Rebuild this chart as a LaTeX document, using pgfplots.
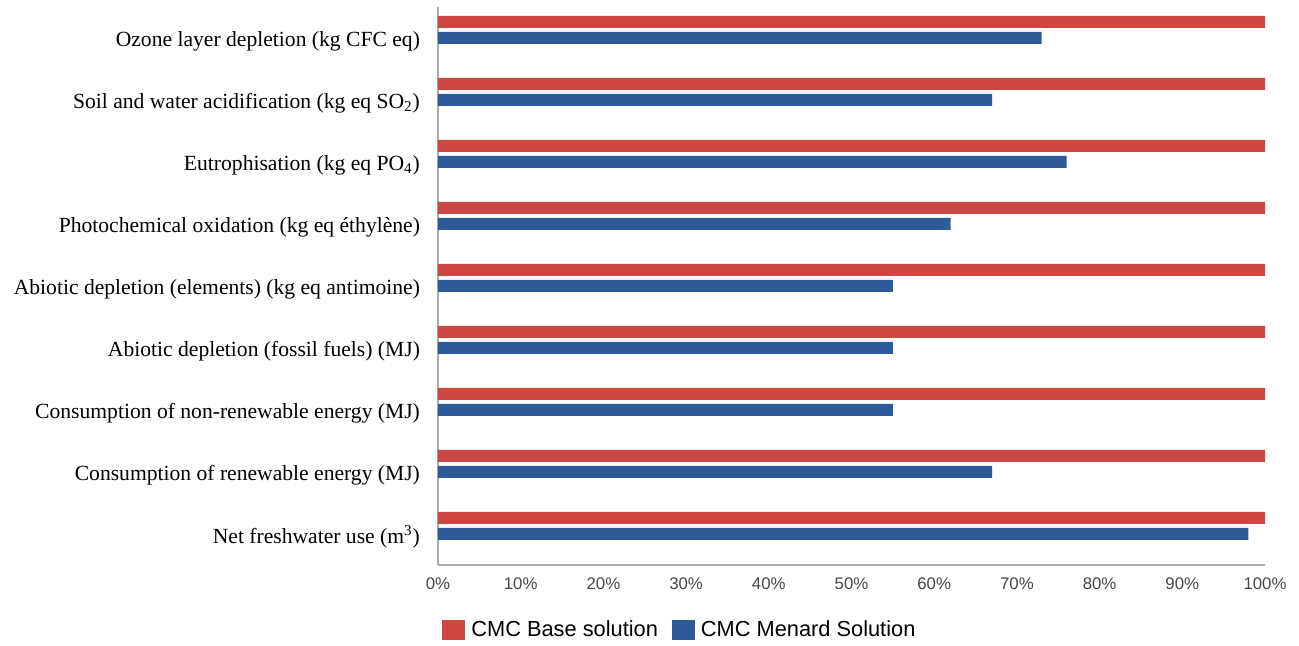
\documentclass[border=0pt]{standalone}
\usepackage{fontspec}
\setmainfont{Liberation Serif}
\newfontfamily\sansf{Liberation Sans}
\usepackage{pgfplots}
\pgfplotsset{compat=1.18}
\definecolor{basered}{RGB}{204,70,66}
\definecolor{menblue}{RGB}{46,90,152}
\definecolor{axgray}{RGB}{170,170,170}
\definecolor{tickgray}{RGB}{70,70,70}
\begin{document}
\begin{tikzpicture}
\begin{axis}[
  name=ax,
  scale only axis,
  width=413.5pt, height=279pt,
  xmin=0, xmax=100, ymin=-0.5, ymax=8.5,
  xbar, bar width=6pt,
  axis x line*=bottom, axis y line*=left,
  axis line style={axgray, line width=0.8pt},
  xtick={0,10,...,100},
  xticklabels={0\%,10\%,20\%,30\%,40\%,50\%,60\%,70\%,80\%,90\%,100\%},
  xticklabel style={font=\sansf\fontsize{8.4}{9}\selectfont, text=tickgray, yshift=-3pt},
  ytick={0,...,8},
  yticklabels={
    Net freshwater use (m\textsuperscript{3}),
    Consumption of renewable energy (MJ),
    Consumption of non-renewable energy (MJ),
    Abiotic depletion (fossil fuels) (MJ),
    Abiotic depletion (elements) (kg eq antimoine),
    Photochemical oxidation (kg eq éthylène),
    Eutrophisation (kg eq PO\textsubscript{4}),
    Soil and water acidification (kg eq SO\textsubscript{2}),
    Ozone layer depletion (kg CFC eq)},
  yticklabel style={font=\fontsize{10.8}{12}\selectfont, xshift=-5.5pt, yshift=-1.5pt},
  major tick length=0pt,
  legend columns=2,
  legend style={draw=none, at={(rel axis cs:0,0)}, anchor=north west,
    xshift=-1pt, yshift=-23.5pt, font=\sansf\fontsize{10.9}{12}\selectfont,
    /tikz/every odd column/.append style={column sep=1pt},
    /tikz/every even column/.append style={column sep=5pt}},
  legend image code/.code={\fill[#1] (0pt,-5pt) rectangle (11.5pt,5pt);},
]
\addplot[fill=basered, draw=none, bar shift=8pt] coordinates {
  (100,0) (100,1) (100,2) (100,3) (100,4) (100,5) (100,6) (100,7) (100,8)};
\addlegendentry{CMC Base solution}
\addplot[fill=menblue, draw=none, bar shift=0pt] coordinates {
  (98,0) (67,1) (55,2) (55,3) (55,4) (62,5) (76,6) (67,7) (73,8)};
\addlegendentry{CMC Menard Solution}
\end{axis}
\pgfresetboundingbox
\path ([xshift=-219pt,yshift=-40.5pt]ax.south west) rectangle ([xshift=17pt,yshift=3.5pt]ax.north east);
\end{tikzpicture}
\end{document}
